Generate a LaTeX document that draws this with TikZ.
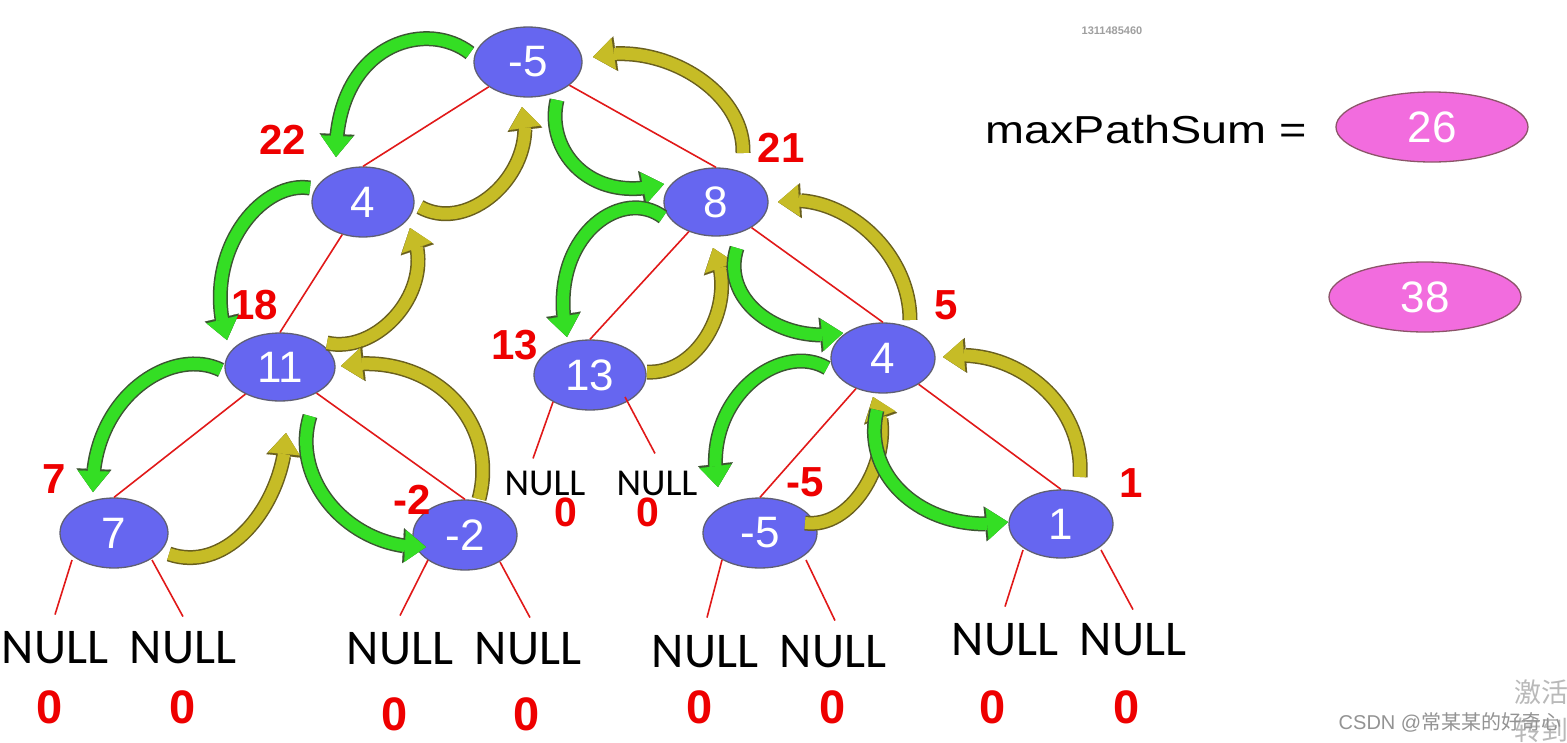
\documentclass[tikz,border=0pt]{standalone}
\usepackage{fontspec}
\setmainfont{Liberation Sans}
\newfontfamily\nullfam{Carlito}
\newfontfamily\cjkfam{Noto Sans CJK SC}
\usetikzlibrary{shapes.geometric,arrows.meta,bending}
\definecolor{nodeblue}{RGB}{102,102,240}
\definecolor{nodeedge}{RGB}{95,95,115}
\definecolor{edgered}{RGB}{225,25,25}
\definecolor{lblred}{RGB}{238,0,0}
\definecolor{gfill}{RGB}{52,222,36}
\definecolor{gedge}{RGB}{60,85,50}
\definecolor{ofill}{RGB}{198,188,38}
\definecolor{oedge}{RGB}{105,95,30}
\definecolor{pinkfill}{RGB}{242,108,222}
\definecolor{pinkedge}{RGB}{140,85,105}
\newcommand\garr[4]{\draw[garrow] #1 .. controls #2 and #3 .. #4;}
\newcommand\oarr[4]{\draw[oarrow] #1 .. controls #2 and #3 .. #4;}
\begin{document}
\begin{tikzpicture}[x=1pt,y=-1pt,
  tnode/.style={ellipse, draw=nodeedge, line width=1.3pt, fill=nodeblue, text=white,
    inner sep=0pt, minimum width=106pt, minimum height=70pt,
    font=\fontsize{44}{44}\selectfont},
  pnode/.style={ellipse, draw=pinkedge, line width=1.3pt, fill=pinkfill, text=white,
    inner sep=0pt, minimum width=192pt, minimum height=70pt,
    font=\fontsize{44}{44}\selectfont},
  edge/.style={draw=edgered, line width=1.6pt},
  lbl/.style={text=lblred, inner sep=0pt, font=\bfseries\fontsize{42}{42}\selectfont},
  zero/.style={text=lblred, inner sep=0pt, font=\bfseries\fontsize{47}{47}\selectfont},
  zerosm/.style={text=lblred, inner sep=0pt, font=\bfseries\fontsize{41}{41}\selectfont},
  nulltxt/.style={inner sep=0pt, font=\nullfam\fontsize{50}{50}\selectfont},
  nullsm/.style={inner sep=0pt, font=\nullfam\fontsize{38}{38}\selectfont},
  garrow/.style={preaction={draw=gedge, line width=15pt,
      -{Triangle[length=23pt,width=35pt,line width=0.1pt]}},
    draw=gfill, line width=12pt, -{Triangle[length=21pt,width=32pt,line width=0.1pt]}},
  oarrow/.style={preaction={draw=oedge, line width=15pt,
      -{Triangle[length=23pt,width=35pt,line width=0.1pt]}},
    draw=ofill, line width=12pt, -{Triangle[length=21pt,width=32pt,line width=0.1pt]}}
]
\useasboundingbox (0,0) rectangle (1567,742);
\fill[white] (0,0) rectangle (1567,742);

% tree nodes
\node[tnode, minimum width=108pt] (root) at (528,62) {-5};
\node[tnode, minimum width=102pt] (n4) at (363,202) {4};
\node[tnode, minimum width=104pt, minimum height=68pt] (n8) at (716,202) {8};
\node[tnode, minimum width=110pt, minimum height=68pt] (n11) at (280,367) {11};
\node[tnode, minimum width=112pt] (n13) at (590,375) {13};
\node[tnode, minimum width=104pt] (n4r) at (883,358) {4};
\node[tnode, minimum width=108pt] (n7) at (114,533) {7};
\node[tnode, minimum width=104pt] (nm2) at (465,535) {-2};
\node[tnode, minimum width=114pt] (nm5) at (760,533) {-5};
\node[tnode, minimum width=104pt, minimum height=68pt] (n1) at (1061,524) {1};

% NULL leaves
\node[nulltxt] (u7l) at (55,648) {NULL};
\node[nulltxt] (u7r) at (183,648) {NULL};
\node[nulltxt] (um2l) at (400,649) {NULL};
\node[nulltxt] (um2r) at (528,649) {NULL};
\node[nulltxt] (um5l) at (705,652) {NULL};
\node[nulltxt] (um5r) at (833,652) {NULL};
\node[nulltxt] (u1l) at (1005,640) {NULL};
\node[nulltxt] (u1r) at (1133,640) {NULL};
\node[nullsm] (u13l) at (545,483) {NULL};
\node[nullsm] (u13r) at (657,483) {NULL};

% zeros
\node[zero] (z1) at (50,707) {0};
\node[zero] (z2) at (183,707) {0};
\node[zero] (z3) at (395,714) {0};
\node[zero] (z4) at (527,714) {0};
\node[zero] (z5) at (700,707) {0};
\node[zero] (z6) at (833,707) {0};
\node[zero] (z7) at (993,707) {0};
\node[zero] (z8) at (1127,707) {0};
\node[zerosm] (z9) at (566,512) {0};
\node[zerosm] (z10) at (648,512) {0};

% red path-gain labels
\node[lbl] (l22) at (283,140) {22};
\node[lbl] (l21) at (781,148) {21};
\node[lbl] (l18) at (255,305) {18};
\node[lbl] (l13) at (515,345) {13};
\node[lbl] (l5) at (946,305) {5};
\node[lbl] (l7) at (54,479) {7};
\node[lbl] (lm2) at (412,500) {-2};
\node[lbl] (lm5) at (805,482) {-5};
\node[lbl] (l1) at (1131,483) {1};

% right side
\node[inner sep=0pt, font=\fontsize{39}{39}\selectfont, xscale=1.2] (mps) at (1146,130) {maxPathSum =};
\node[pnode] (res1) at (1432,127) {26};
\node[pnode] (res2) at (1425,297) {38};

% watermarks
\node[inner sep=0pt, text=gray!75, font=\bfseries\fontsize{11}{11}\selectfont] (wm) at (1112,31) {1311485460};
\node[inner sep=0pt, anchor=west, text=gray!55, font=\cjkfam\fontsize{27}{27}\selectfont] (act) at (1514,692) {激活};
\node[inner sep=0pt, anchor=west, text=gray!55, font=\cjkfam\fontsize{27}{27}\selectfont] (goto) at (1514,730) {转到“};
\node[inner sep=0pt, text=gray!85, font=\fontsize{20}{20}\selectfont] (csdn) at (1450,722) {CSDN @{\cjkfam 常某某的好奇心}};

% tree edges
\draw[edge] (root) -- (n4.north);
\draw[edge] (root) -- (n8.north);
\draw[edge] (n4) -- (n11.north);
\draw[edge] (n8) -- (n13.north);
\draw[edge] (n8) -- (n4r.north);
\draw[edge] (n11) -- (n7.north);
\draw[edge] (n11) -- (nm2.north);
\draw[edge] (n4r) -- (nm5.north);
\draw[edge] (n4r) -- (n1.north);

% edges to NULL
\draw[edge] ([shift={(-42,27)}]n7.center) -- ([shift={(0,-17)}]u7l.north);
\draw[edge] ([shift={(38,27)}]n7.center) -- ([shift={(0,-15)}]u7r.north);
\draw[edge] ([shift={(-37,25)}]nm2.center) -- ([shift={(0,-17)}]um2l.north);
\draw[edge] ([shift={(35,27)}]nm2.center) -- ([shift={(2,-15)}]um2r.north);
\draw[edge] ([shift={(-38,27)}]nm5.center) -- ([shift={(2,-18)}]um5l.north);
\draw[edge] ([shift={(46,27)}]nm5.center) -- ([shift={(2,-15)}]um5r.north);
\draw[edge] ([shift={(-38,26)}]n1.center) -- ([shift={(0,-17)}]u1l.north);
\draw[edge] ([shift={(40,26)}]n1.center) -- ([shift={(0,-14)}]u1r.north);
\draw[edge] ([shift={(-37,27)}]n13.center) -- ([shift={(-12,-12)}]u13l.north);
\draw[edge] ([shift={(35,22)}]n13.center) -- ([shift={(-2,-17)}]u13r.north);

% recursion arrows: green = descend, olive = return
\garr{([shift={(-58,-9)}]root.center)}{(425,18)}{(335,45)}{([shift={(-27,-45)}]n4.center)}
\oarr{([shift={(57,5)}]n4.center)}{(470,235)}{(540,170)}{([shift={(-6,45)}]root.center)}
\garr{([shift={(29,38)}]root.center)}{(545,150)}{(590,205)}{([shift={(-52,-18)}]n8.center)}
\oarr{([shift={(27,-49)}]n8.center)}{(745,90)}{(660,40)}{([shift={(65,-5)}]root.center)}
\garr{([shift={(-53,-14)}]n4.center)}{(260,180)}{(200,255)}{([shift={(-53,-27)}]n11.center)}
\oarr{([shift={(47,-24)}]n11.center)}{(380,355)}{(440,285)}{([shift={(47,26)}]n4.center)}
\garr{([shift={(-53,15)}]n8.center)}{(620,185)}{(545,240)}{([shift={(-23,-38)}]n13.center)}
\oarr{([shift={(57,-3)}]n13.center)}{(700,375)}{(740,300)}{([shift={(-3,46)}]n8.center)}
\garr{([shift={(21,46)}]n8.center)}{(720,300)}{(780,345)}{([shift={(-40,-25)}]n4r.center)}
\oarr{([shift={(27,-38)}]n4r.center)}{(910,250)}{(840,190)}{([shift={(62,0)}]n8.center)}
\garr{([shift={(-59,3)}]n11.center)}{(170,345)}{(90,400)}{([shift={(-21,-41)}]n7.center)}
\oarr{([shift={(55,21)}]n7.center)}{(230,575)}{(285,500)}{([shift={(6,66)}]n11.center)}
\garr{([shift={(30,49)}]n11.center)}{(290,480)}{(350,550)}{([shift={(-39,12)}]nm2.center)}
\oarr{([shift={(14,-36)}]nm2.center)}{(500,420)}{(430,350)}{([shift={(61,-1)}]n11.center)}
\garr{([shift={(-56,10)}]n4r.center)}{(780,340)}{(700,400)}{([shift={(-42,-46)}]nm5.center)}
\oarr{([shift={(45,-10)}]nm5.center)}{(860,530)}{(900,440)}{([shift={(-10,39)}]n4r.center)}
\garr{([shift={(-6,52)}]n4r.center)}{(860,480)}{(930,535)}{([shift={(-53,-2)}]n1.center)}
\oarr{([shift={(19,-47)}]n1.center)}{(1085,400)}{(1010,345)}{([shift={(60,-1)}]n4r.center)}
\end{tikzpicture}
\end{document}
